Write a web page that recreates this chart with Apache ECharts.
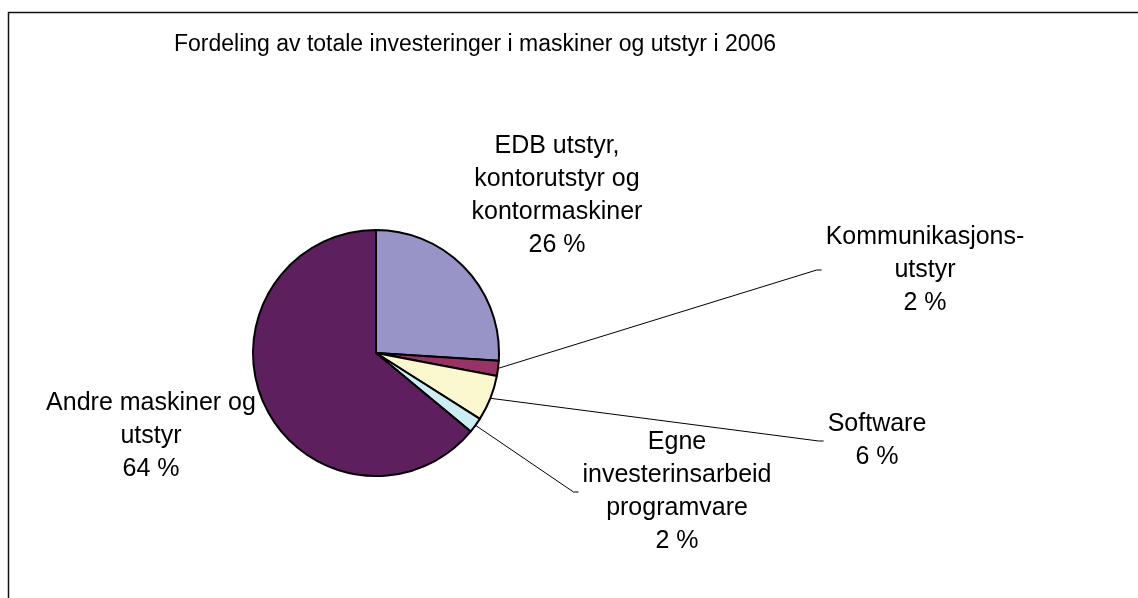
<!DOCTYPE html>
<html>
<head>
<meta charset="utf-8">
<script src="https://cdn.jsdelivr.net/npm/echarts@6/dist/echarts.min.js"></script>
<style>
  html, body { margin: 0; padding: 0; background: #fff; }
  #chart { width: 1138px; height: 598px; }
</style>
</head>
<body>
<div id="chart"></div>
<script>
const titleText = 'Fordeling av totale investeringer i maskiner og utstyr i 2006';
const categories = [
  'EDB utstyr,\nkontorutstyr og\nkontormaskiner',
  'Kommunikasjons-\nutstyr',
  'Software',
  'Egne\ninvesterinsarbeid\nprogramvare',
  'Andre maskiner og\nutstyr'
];
const values = [26, 2, 6, 2, 64];
const colors = ['#9894C8', '#993366', '#FBF8CF', '#CCEEF2', '#5E1F5E'];
const showLeader = [false, true, true, true, false];

// label block centres (layout only)
const labelPos = [[557, 196], [925, 270], [877, 441], [677, 492], [151, 436]];

const chart = echarts.init(document.getElementById('chart'), null, { renderer: 'canvas' });

function sliceMid(i) {
  try {
    const data = chart.getModel().getSeriesByIndex(0).getData();
    const l = data.getItemLayout(i);
    const a = (l.startAngle + l.endAngle) / 2;
    return [l.cx + l.r * Math.cos(a), l.cy + l.r * Math.sin(a)];
  } catch (e) {
    return null;
  }
}

const option = {
  animation: false,
  backgroundColor: '#ffffff',
  title: {
    text: titleText,
    left: 475,
    top: 33,
    padding: 0,
    textAlign: 'center',
    textStyle: { fontFamily: 'Liberation Sans, Arial, sans-serif', fontSize: 23, fontWeight: 'normal', color: '#000' }
  },
  graphic: [{
    type: 'rect',
    z: -1,
    shape: { x: 8.5, y: 12.5, width: 1200, height: 700 },
    style: { fill: 'none', stroke: '#111', lineWidth: 1.5 }
  }],
  series: [{
    type: 'pie',
    center: [376, 353],
    radius: 123,
    startAngle: 90,
    clockwise: true,
    avoidLabelOverlap: false,
    itemStyle: { borderColor: '#000', borderWidth: 2 },
    label: {
      show: true,
      position: 'outside',
      formatter: '{b}\n{c} %',
      fontFamily: 'Liberation Sans, Arial, sans-serif',
      fontSize: 25,
      lineHeight: 33,
      color: '#000'
    },
    labelLine: { show: true, smooth: false, lineStyle: { color: '#000', width: 1 } },
    emphasis: { disabled: true },
    labelLayout: function (params) {
      const i = params.dataIndex;
      const p = labelPos[i];
      const res = { x: p[0], y: p[1], align: 'center', verticalAlign: 'middle' };
      if (showLeader[i]) {
        const mid = sliceMid(i);
        if (mid) {
          const left = p[0] - params.labelRect.width / 2 - 4;
          res.labelLinePoints = [mid, [left - 5, p[1]], [left, p[1]]];
        }
      }
      return res;
    },
    data: categories.map((name, i) => ({
      name: name,
      value: values[i],
      itemStyle: { color: colors[i] },
      labelLine: { show: showLeader[i] }
    }))
  }]
};

chart.setOption(option);
</script>
</body>
</html>
